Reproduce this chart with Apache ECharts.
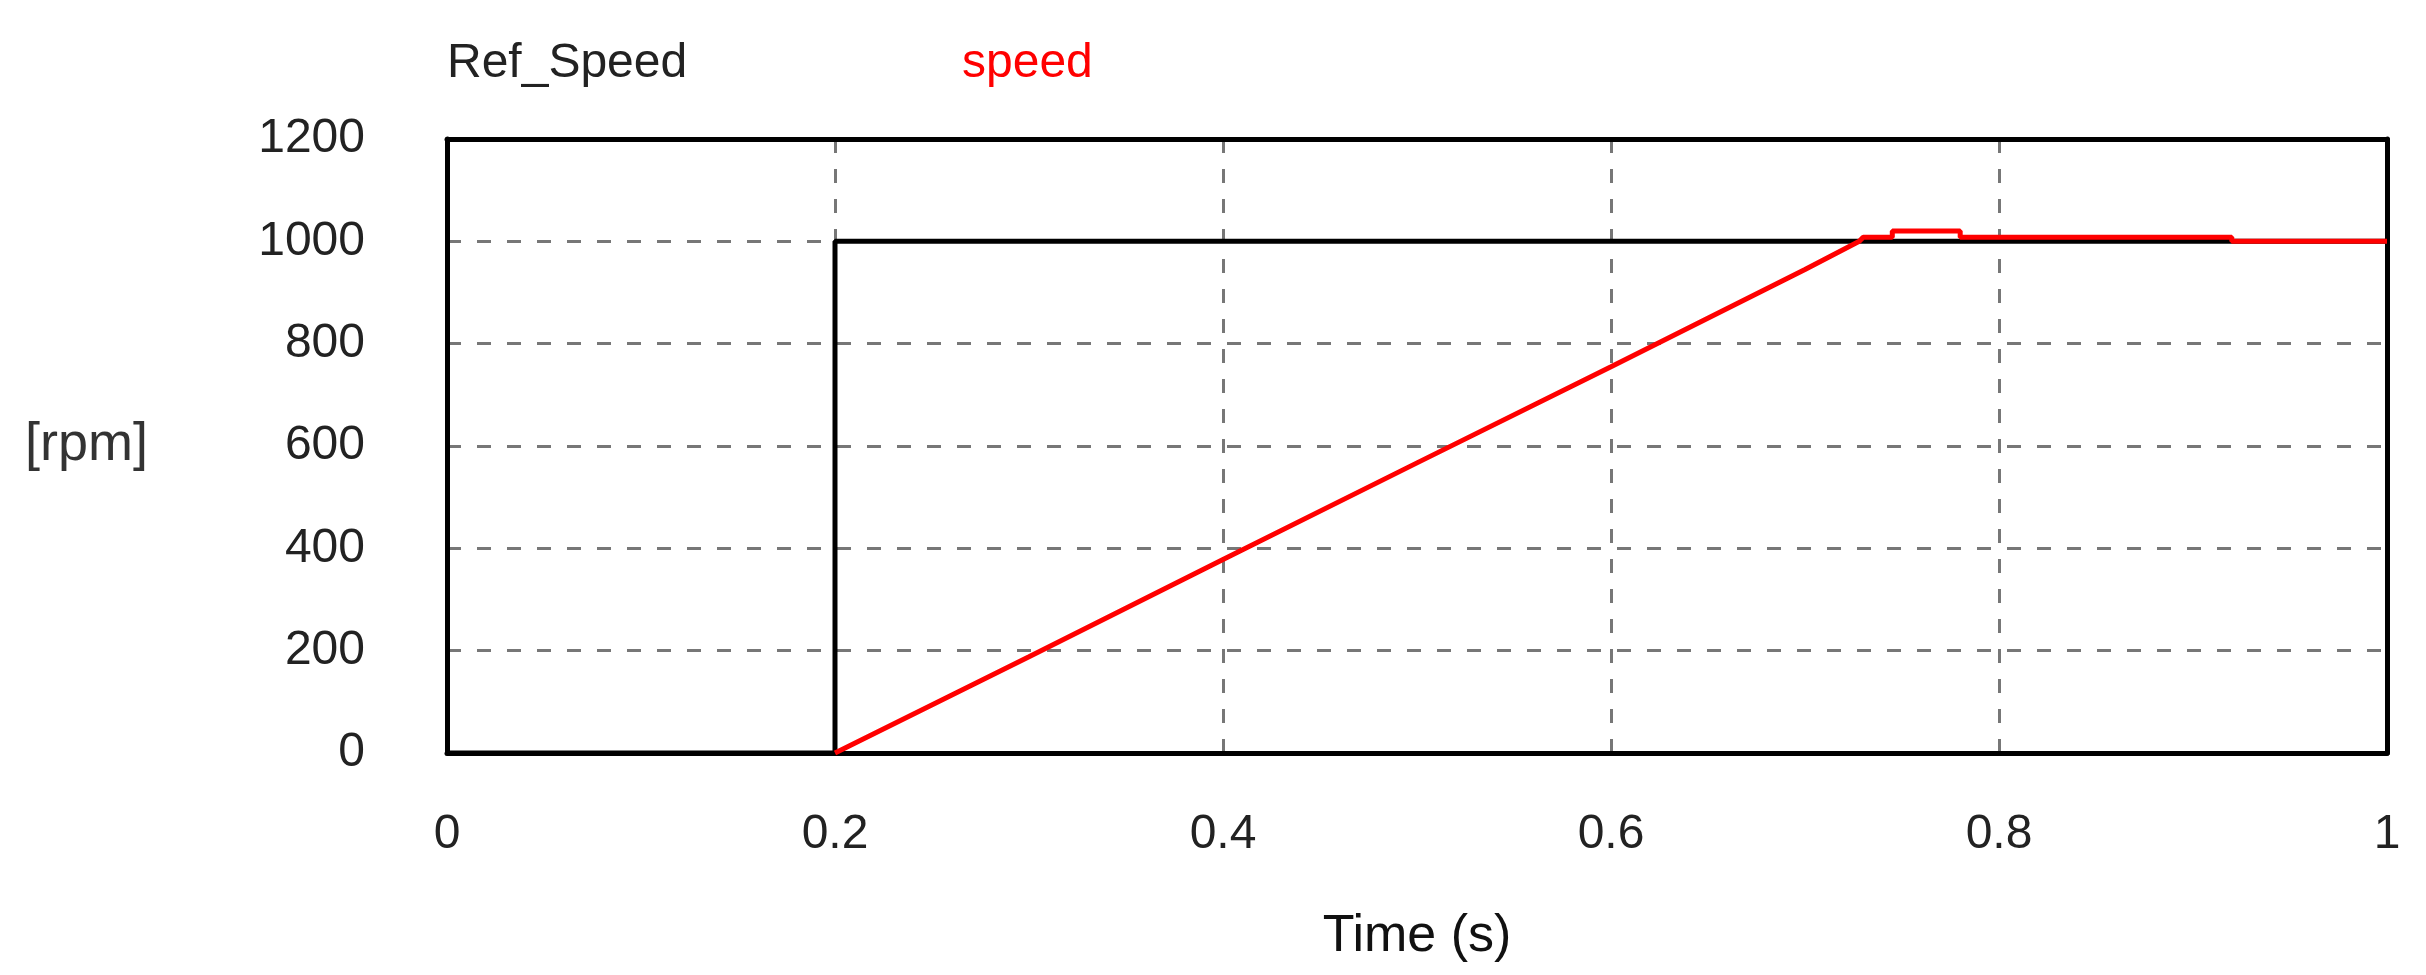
<!DOCTYPE html>
<html><head><meta charset="utf-8">
<script src="https://cdn.jsdelivr.net/npm/echarts@6/dist/echarts.min.js"></script>
<style>html,body{margin:0;background:#fff}#c{width:2426px;height:975px}</style>
</head><body><div id="c"></div>
<script>
const refTime = [0, 0.2, 0.2, 1.0];
const refSpeed = [0, 0, 1000, 1000];
const speedTime = [0.2, 0.3, 0.4, 0.5, 0.6, 0.7, 0.728, 0.73, 0.745, 0.745, 0.78, 0.78, 0.92, 0.92, 1.0];
const speedVal = [0, 188, 378, 567, 755, 945, 1000, 1008, 1008, 1020, 1020, 1008, 1008, 1000, 1000];
const xTicks = [0, 0.2, 0.4, 0.6, 0.8, 1];
const yTicks = [0, 200, 400, 600, 800, 1000, 1200];
const font = 'Liberation Sans';
const frame = {show: true, onZero: false, lineStyle: {color: '#000', width: 5}};
const chart = echarts.init(document.getElementById('c'));
chart.setOption({
  animation: false,
  grid: {left: 447, right: 39, top: 139, bottom: 222},
  graphic: [
    {type: 'text', left: 447, top: 40, style: {text: 'Ref_Speed', font: '48px ' + font, fill: '#222'}},
    {type: 'text', left: 962, top: 40, style: {text: 'speed', font: '48px ' + font, fill: '#ff0000'}},
    {type: 'text', left: 25, top: 418, style: {text: '[rpm]', font: '54px ' + font, fill: '#333'}}
  ],
  xAxis: [{type: 'value', min: 0, max: 1, interval: 0.2, name: 'Time (s)', nameLocation: 'middle', nameGap: 158,
    nameTextStyle: {fontFamily: font, fontSize: 52, color: '#111'},
    axisLine: frame, axisTick: {show: false},
    axisLabel: {fontFamily: font, fontSize: 48, color: '#222', margin: 58, formatter: v => xTicks.includes(+v.toFixed(1)) ? String(+v.toFixed(1)) : ''},
    splitLine: {show: true, showMinLine: false, showMaxLine: false, lineStyle: {color: '#777', type: [14, 16], width: 3}}},
    {type: 'value', position: 'top', min: 0, max: 1, axisLine: frame, axisTick: {show: false}, axisLabel: {show: false}, splitLine: {show: false}}],
  yAxis: [{type: 'value', min: 0, max: 1200, interval: 200,
    axisLine: frame, axisTick: {show: false},
    axisLabel: {fontFamily: font, fontSize: 48, color: '#222', margin: 82, formatter: v => String(v)},
    splitLine: {show: true, showMinLine: false, showMaxLine: false, lineStyle: {color: '#777', type: [14, 16], width: 3}}},
    {type: 'value', position: 'right', min: 0, max: 1200, axisLine: frame, axisTick: {show: false}, axisLabel: {show: false}, splitLine: {show: false}}],
  series: [
    {name: 'Ref_Speed', type: 'line', symbol: 'none', data: refTime.map((t, i) => [t, refSpeed[i]]), lineStyle: {color: '#000', width: 5}, z: 2},
    {name: 'speed', type: 'line', symbol: 'none', data: speedTime.map((t, i) => [t, speedVal[i]]), lineStyle: {color: '#ff0000', width: 5}, z: 3}
  ]
});
</script></body></html>
